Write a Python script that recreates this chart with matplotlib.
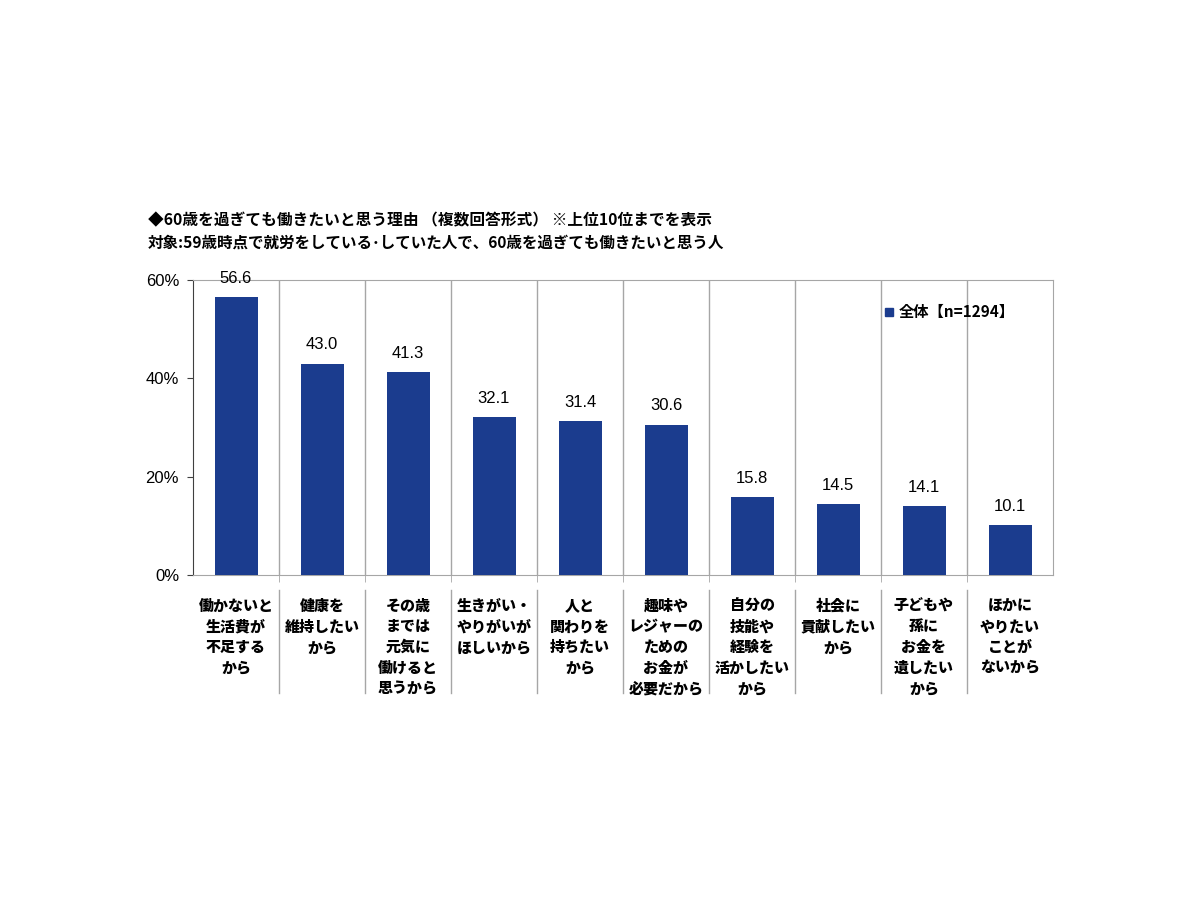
import matplotlib.pyplot as plt
from matplotlib.lines import Line2D
import matplotlib.transforms as mtrans

plt.rcParams['font.family'] = ['Noto Sans CJK JP', 'DejaVu Sans']

title1 = '◆60歳を過ぎても働きたいと思う理由 （複数回答形式） ※上位10位までを表示'
title2 = '対象:59歳時点で就労をしている･していた人で、60歳を過ぎても働きたいと思う人'

categories = [
    '働かないと\n生活費が\n不足する\nから',
    '健康を\n維持したい\nから',
    'その歳\nまでは\n元気に\n働けると\n思うから',
    '生きがい・\nやりがいが\nほしいから',
    '人と\n関わりを\n持ちたい\nから',
    '趣味や\nレジャーの\nための\nお金が\n必要だから',
    '自分の\n技能や\n経験を\n活かしたい\nから',
    '社会に\n貢献したい\nから',
    '子どもや\n孫に\nお金を\n遺したい\nから',
    'ほかに\nやりたい\nことが\nないから',
]
values = [56.6, 43.0, 41.3, 32.1, 31.4, 30.6, 15.8, 14.5, 14.1, 10.1]
legend_label = '全体【n=1294】'
yticks = [0, 20, 40, 60]

bar_color = '#1B3C8E'
grid_color = '#A6A6A6'

fig = plt.figure(figsize=(12, 9), dpi=100)
ax = fig.add_axes([193 / 1200, 1 - 575 / 900, 860 / 1200, 295 / 900])

x = list(range(len(values)))
ax.bar(x, values, width=0.5, color=bar_color, zorder=3)

for xi, v in zip(x, values):
    ax.annotate(f'{v:.1f}', (xi, v), xytext=(0, 8), textcoords='offset points',
                ha='center', va='bottom', fontsize=12, family=['Liberation Sans', 'DejaVu Sans'])

ax.set_xlim(-0.5, len(values) - 0.5)
ax.set_ylim(0, 60)
ax.set_yticks(yticks)
ax.set_yticklabels([f'{t}%' for t in yticks], fontsize=12, family=['Liberation Sans', 'DejaVu Sans'])
ax.tick_params(axis='y', length=4, color='#404040', pad=6)

# category labels
ax.set_xticks(x)
ax.set_xticklabels(categories, fontsize=10.8, fontweight='heavy', linespacing=1.48)
ax.tick_params(axis='x', which='major', length=0, pad=17)

# boundaries: gridlines inside and separators below
bounds = [i + 0.5 for i in range(len(values) - 1)]
ax.set_xticks(bounds, minor=True)
ax.tick_params(axis='x', which='minor', length=5, color=grid_color)
for b in bounds:
    ax.axvline(b, color=grid_color, lw=1, zorder=1)
trans = mtrans.blended_transform_factory(ax.transData, ax.transAxes)
for b in bounds:
    ax.plot([b, b], [-0.05, -0.40], transform=trans, color=grid_color, lw=1, clip_on=False)

for s in ['top', 'right', 'bottom']:
    ax.spines[s].set_color(grid_color)
ax.spines['left'].set_color('#404040')

handle = Line2D([], [], marker='s', color=bar_color, linestyle='none', markersize=6)
ax.legend([handle], [legend_label], loc='center left', bbox_to_anchor=(0.785, 0.89),
          frameon=False, handletextpad=0.1, prop={'size': 11, 'weight': 'bold'},
          handlelength=1.0)

fig.text(148 / 1200, 1 - 220 / 900, title1, fontsize=11.3, fontweight='bold', va='center')
fig.text(148 / 1200, 1 - 243 / 900, title2, fontsize=11.2, fontweight='bold', va='center')

fig.savefig('out.png', dpi=100)
